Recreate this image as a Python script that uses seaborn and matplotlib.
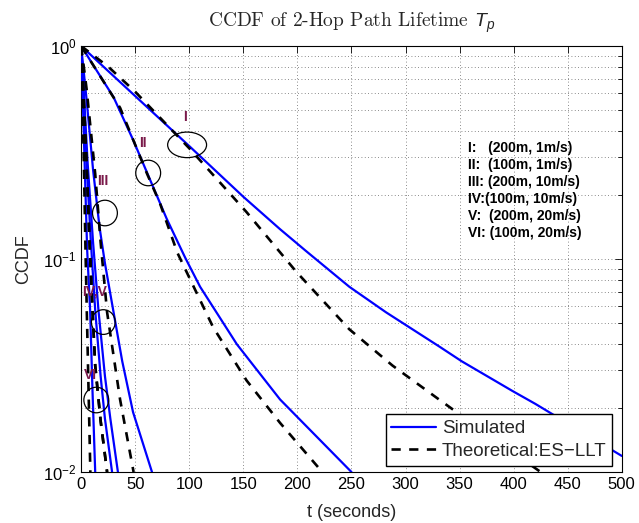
import numpy as np
import pandas as pd
import matplotlib
matplotlib.use("Agg")
import matplotlib.pyplot as plt
from matplotlib.patches import Ellipse
import seaborn as sns

# ---- data (t in seconds, CCDF values) ----
sim_I_t = [0, 50, 100, 150, 184, 208, 248, 282, 331, 352, 399, 420, 500]
sim_I_y = [1, 0.582, 0.339, 0.196, 0.138, 0.109, 0.0741, 0.0562, 0.0389, 0.0331, 0.024, 0.0209, 0.0119]
th_I_t = [0, 25, 50, 100, 153, 199, 248, 288, 331, 380, 425]
th_I_y = [1, 0.80, 0.61, 0.331, 0.166, 0.0871, 0.0468, 0.0316, 0.0219, 0.0145, 0.01]

sim_II_t = [0, 30, 48, 64, 79, 96, 110, 144, 184, 217, 250]
sim_II_y = [1, 0.575, 0.363, 0.234, 0.155, 0.102, 0.0741, 0.0398, 0.0219, 0.0148, 0.01]
th_II_t = [0, 36, 61, 73, 89, 122, 153, 184, 223]
th_II_y = [1, 0.513, 0.251, 0.182, 0.107, 0.0479, 0.0269, 0.017, 0.01]

sim_III_t = [0, 5, 11, 17, 22, 30, 38, 48, 65.5]
sim_III_y = [1, 0.562, 0.263, 0.141, 0.0955, 0.0562, 0.0331, 0.0191, 0.01]
th_III_t = [0, 5, 13, 18, 24, 36, 48.5]
th_III_y = [1, 0.631, 0.251, 0.12, 0.0562, 0.0219, 0.01]

sim_IV_t = [0, 2, 5, 9, 13, 18, 22, 28.6]
sim_IV_y = [1, 0.603, 0.282, 0.12, 0.0575, 0.0282, 0.0178, 0.01]
sim_V_t = [0, 2.5, 6, 11, 16, 22, 27, 34]
sim_V_y = [1, 0.603, 0.282, 0.12, 0.0575, 0.0282, 0.0178, 0.01]
th_IVV_t = [0, 2, 5, 8, 10.5, 13, 18, 24]
th_IVV_y = [1, 0.631, 0.282, 0.112, 0.0575, 0.0316, 0.0174, 0.01]

sim_VI_t = [0, 1.5, 3.5, 5.5, 8.3, 10.5, 13]
sim_VI_y = [1, 0.562, 0.251, 0.112, 0.0575, 0.024, 0.01]
th_VI_t = [0, 1, 2.5, 4, 5.2, 7, 8.5]
th_VI_y = [1, 0.631, 0.282, 0.112, 0.0575, 0.0224, 0.01]

case_lines = ["I:   (200m, 1m/s)", "II:  (100m, 1m/s)", "III: (200m, 10m/s)",
              "IV:(100m, 10m/s)", "V:  (200m, 20m/s)", "VI: (100m, 20m/s)"]
xticks = [0, 50, 100, 150, 200, 250, 300, 350, 400, 450, 500]

sim_curves = [(sim_I_t, sim_I_y), (sim_II_t, sim_II_y), (sim_III_t, sim_III_y),
              (sim_IV_t, sim_IV_y), (sim_V_t, sim_V_y), (sim_VI_t, sim_VI_y)]
th_curves = [(th_I_t, th_I_y), (th_II_t, th_II_y), (th_III_t, th_III_y),
             (th_IVV_t, th_IVV_y), (th_IVV_t, th_IVV_y), (th_VI_t, th_VI_y)]

sns.set_theme(style="white")
plt.rcParams['font.family'] = ['Liberation Sans', 'DejaVu Sans']
plt.rcParams['mathtext.fontset'] = 'custom'
plt.rcParams['mathtext.rm'] = 'Liberation Sans'
plt.rcParams['mathtext.it'] = 'Liberation Sans:italic'

fig = plt.figure(figsize=(6.39, 5.23), dpi=100)
ax = fig.add_axes([0.127, 0.0975, 0.846, 0.8145])

for i, (t, y) in enumerate(sim_curves):
    df = pd.DataFrame({"t": t, "ccdf": y})
    sns.lineplot(data=df, x="t", y="ccdf", ax=ax, color="#0000ff", lw=1.6,
                 estimator=None, sort=False, label="Simulated" if i == 0 else None,
                 zorder=3)
for i, (t, y) in enumerate(th_curves):
    df = pd.DataFrame({"t": t, "ccdf": y})
    sns.lineplot(data=df, x="t", y="ccdf", ax=ax, color="black", lw=1.9,
                 estimator=None, sort=False, dashes=False,
                 label="Theoretical:ES\u2212LLT" if i == 0 else None, zorder=4)
for line in ax.get_lines()[len(sim_curves):]:
    line.set_dashes((3.5, 3.2))

ax.set_yscale("log")
ax.set_xlim(0, 500)
ax.set_ylim(0.01, 1)
ax.set_xticks(xticks)
ax.set_xticklabels([str(v) for v in xticks])
ax.set_yticks([0.01, 0.1, 1])
ax.set_yticklabels([r"$10^{-2}$", r"$10^{-1}$", r"$10^{0}$"])
ax.tick_params(axis="both", which="both", direction="in", labelsize=12,
               top=True, right=True, colors="black")
ax.tick_params(which="major", length=5, width=0.6)
ax.tick_params(which="minor", length=3, width=0.6)
ax.grid(True, which="major", axis="both", linestyle=(0, (1, 3)), color="#666666", lw=0.6)
ax.grid(True, which="minor", axis="y", linestyle=(0, (1, 3)), color="#666666", lw=0.6)
for s in ax.spines.values():
    s.set_color("black")
    s.set_linewidth(0.8)

ax.set_xlabel("t (seconds)", fontsize=13, labelpad=9)
ax.set_ylabel("CCDF", fontsize=13, labelpad=8)
ax.set_title(r"CCDF of 2-Hop Path Lifetime $T_p$", fontsize=14, pad=14,
             fontfamily="cmr10")

leg = ax.legend(loc="lower right", bbox_to_anchor=(0.982, 0.015), fontsize=13.5,
                frameon=True, fancybox=False, edgecolor="black", framealpha=1,
                borderpad=0.3, handlelength=2.4, handletextpad=0.3, labelspacing=0.3,
                borderaxespad=0)
leg.get_frame().set_linewidth(1.0)

# case descriptions
for k, txt in enumerate(case_lines):
    ax.text(0.715, 0.761 - k * 0.04, txt, transform=ax.transAxes, fontsize=10,
            fontweight="bold", va="center", ha="left", color="black")

# curve labels and circles
label_col = "#7a1a4a"
labels = [("I", 0.189, 0.833), ("II", 0.108, 0.773), ("III", 0.030, 0.683),
          ("IV,V", 0.002, 0.423), ("VI", 0.005, 0.228)]
for txt, x, y in labels:
    ax.text(x, y, txt, transform=ax.transAxes, fontsize=10, fontweight="bold",
            color=label_col, va="center", ha="left", zorder=6)
ellipses = [(0.196, 0.768, 0.072, 0.060), (0.124, 0.702, 0.046, 0.060),
            (0.044, 0.608, 0.046, 0.060), (0.041, 0.352, 0.044, 0.058),
            (0.028, 0.169, 0.046, 0.060)]
for x, y, w, h in ellipses:
    ax.add_patch(Ellipse((x, y), w, h, transform=ax.transAxes, fill=False,
                         edgecolor="black", lw=0.9, zorder=6))

fig.savefig("out.png", dpi=100)
